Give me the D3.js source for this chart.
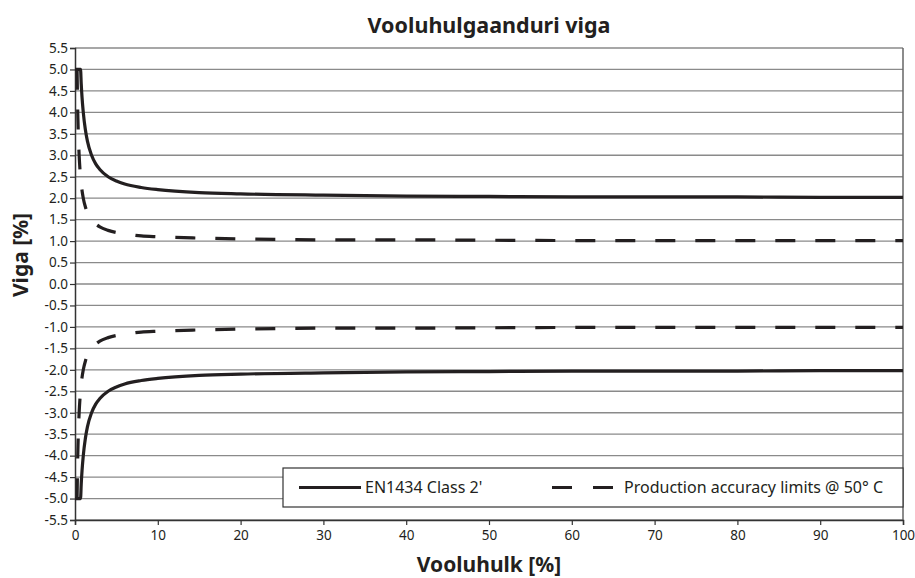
<!DOCTYPE html>
<html><head><meta charset="utf-8">
<script src="https://cdn.jsdelivr.net/npm/d3@7"></script>
<style>body{margin:0;background:#fff;} svg{display:block;font-family:"Noto Sans",sans-serif;}</style>
</head><body>
<svg id="c" width="915" height="578"></svg>
<script>
const title = "Vooluhulgaanduri viga";
const xLabel = "Vooluhulk [%]";
const yLabel = "Viga [%]";
const xTicks = [0,10,20,30,40,50,60,70,80,90,100];
const yTicks = [-5.5,-5,-4.5,-4,-3.5,-3,-2.5,-2,-1.5,-1,-0.5,0,0.5,1,1.5,2,2.5,3,3.5,4,4.5,5,5.5];
const seriesNames = ["EN1434 Class 2'", "Production accuracy limits @ 50° C"];

const classX = [0,0.67,0.75,0.85,1,1.25,1.5,2,2.5,3,4,5,6,8,10,15,20,30,40,50,60,70,80,90,100];
const classUpper = [5,5,4.67,4.35,4.0,3.6,3.33,3.0,2.8,2.67,2.5,2.4,2.33,2.25,2.2,2.13,2.1,2.07,2.05,2.04,2.03,2.03,2.03,2.02,2.02];
const classLower = [-5,-5,-4.67,-4.35,-4.0,-3.6,-3.33,-3.0,-2.8,-2.67,-2.5,-2.4,-2.33,-2.25,-2.2,-2.13,-2.1,-2.07,-2.05,-2.04,-2.03,-2.03,-2.03,-2.02,-2.02];

const prodX = [0.25,0.3,0.35,0.4,0.5,0.6,0.7,0.8,1,1.25,1.5,2,2.5,3,4,5,6,8,10,15,20,30,40,50,70,100];
const prodUpper = [5,4.33,3.86,3.5,3.0,2.67,2.43,2.25,2.0,1.8,1.67,1.5,1.4,1.33,1.25,1.2,1.17,1.12,1.1,1.07,1.05,1.03,1.03,1.02,1.01,1.01];
const prodLower = [-5,-4.33,-3.86,-3.5,-3.0,-2.67,-2.43,-2.25,-2.0,-1.8,-1.67,-1.5,-1.4,-1.33,-1.25,-1.2,-1.17,-1.12,-1.1,-1.07,-1.05,-1.03,-1.03,-1.02,-1.01,-1.01];

const svg = d3.select("#c");
const L=75, R=903, T=48, B=520;
const x = d3.scaleLinear().domain([0,100]).range([L,R]);
const y = d3.scaleLinear().domain([-5.5,5.5]).range([B,T]);

// gridlines
svg.append("g").selectAll("line").data(yTicks).join("line")
  .attr("x1",L).attr("x2",R).attr("y1",d=>y(d)).attr("y2",d=>y(d))
  .attr("stroke","#8a8a8a").attr("stroke-width",1.3);
// right border
svg.append("line").attr("x1",R).attr("x2",R).attr("y1",T).attr("y2",B).attr("stroke","#666").attr("stroke-width",1.5);

// axes
const xAxis = svg.append("g").attr("transform",`translate(0,${B})`)
  .call(d3.axisBottom(x).tickValues(xTicks).tickSize(5).tickPadding(5).tickFormat(d3.format("d")));
const yAxis = svg.append("g").attr("transform",`translate(${L},0)`)
  .call(d3.axisLeft(y).tickValues(yTicks).tickSize(5).tickPadding(2).tickFormat(d3.format(".1f")));
[xAxis,yAxis].forEach(a=>{
  a.selectAll("path").attr("stroke","#333").attr("stroke-width",1.5);
  a.selectAll("line").attr("stroke","#333").attr("stroke-width",1.2);
  a.selectAll("text").attr("fill","#231f20").attr("font-size",13.5).attr("font-family","'Noto Sans',sans-serif");
});
yAxis.selectAll("text").text(d=> d3.format(".1f")(d).replace("−","-"));

// lines
const line = d3.line().x(d=>x(d[0])).y(d=>y(d[1])).curve(d3.curveMonotoneX);
const draw = (xs,ys,dash)=>svg.append("path")
  .attr("d",line(xs.map((v,i)=>[v,ys[i]])))
  .attr("fill","none").attr("stroke","#231f20").attr("stroke-width",3.2)
  .attr("stroke-dasharray",dash);
draw(classX,classUpper,null);
draw(classX,classLower,null);
draw(prodX,prodUpper,"20,20");
draw(prodX,prodLower,"20,20");

// title and labels
svg.append("text").attr("x",(L+R)/2).attr("y",33).attr("text-anchor","middle")
  .attr("font-weight","bold").attr("font-size",21.5).attr("fill","#231f20").text(title);
svg.append("text").attr("x",(L+R)/2).attr("y",572).attr("text-anchor","middle")
  .attr("font-weight","bold").attr("font-size",21).attr("fill","#231f20").text(xLabel);
svg.append("text").attr("transform","translate(28,255) rotate(-90)").attr("text-anchor","middle")
  .attr("font-weight","bold").attr("font-size",21).attr("fill","#231f20").text(yLabel);

// legend
const lg = svg.append("g");
lg.append("rect").attr("x",283).attr("y",468).attr("width",620).attr("height",39)
  .attr("fill","#fff").attr("stroke","#333").attr("stroke-width",1.2);
const ly = 487.5;
lg.append("line").attr("x1",299).attr("x2",361).attr("y1",ly).attr("y2",ly)
  .attr("stroke","#231f20").attr("stroke-width",3.2);
lg.append("text").attr("x",365).attr("y",ly+5.5).attr("font-size",16).attr("fill","#231f20").text(seriesNames[0]);
lg.append("line").attr("x1",552).attr("x2",613).attr("y1",ly).attr("y2",ly)
  .attr("stroke","#231f20").attr("stroke-width",3.2).attr("stroke-dasharray","20,21");
lg.append("text").attr("x",624).attr("y",ly+5.5).attr("font-size",16).attr("fill","#231f20").text(seriesNames[1]);
</script>
</body></html>
